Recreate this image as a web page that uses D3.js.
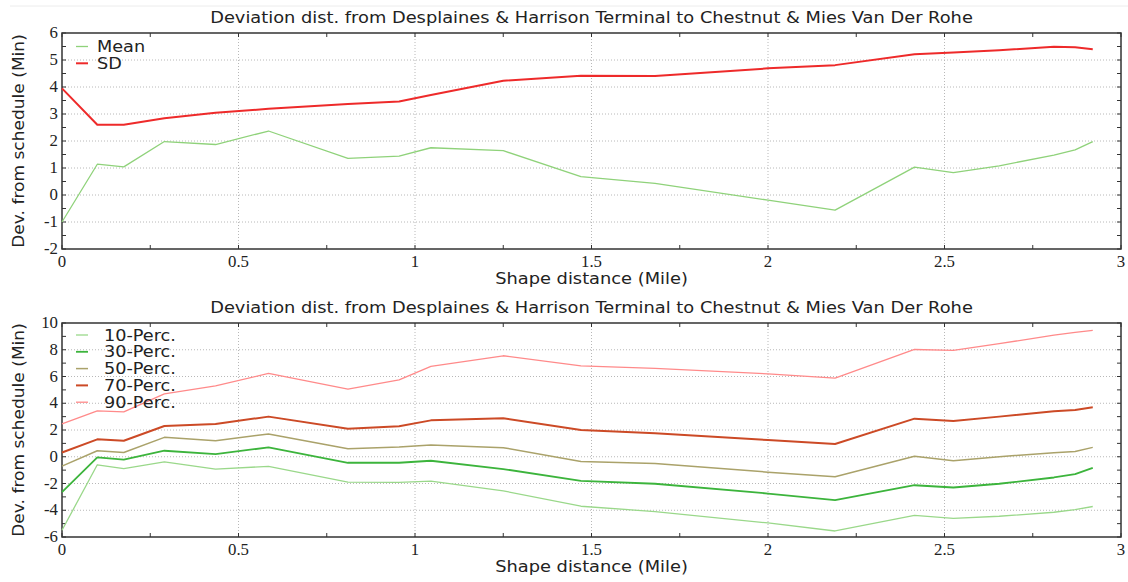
<!DOCTYPE html>
<html><head><meta charset="utf-8">
<script src="https://cdn.jsdelivr.net/npm/d3@7"></script>
<style>
body{margin:0;background:#fff;}
svg{display:block;}
.tick-label{font-family:"Liberation Serif","Times New Roman",serif;font-size:16px;fill:#222;}
.title{font-family:"DejaVu Sans",Verdana,sans-serif;font-size:15.5px;fill:#222;}
.axis-title{font-family:"DejaVu Sans",Verdana,sans-serif;font-size:15.5px;fill:#222;}
.legend{font-family:"DejaVu Sans",Verdana,sans-serif;font-size:15.5px;fill:#222;}
</style>
</head><body>
<script>
// ---------- data ----------
const titleText = "Deviation dist. from Desplaines & Harrison Terminal to Chestnut & Mies Van Der Rohe";
const xLabel = "Shape distance (Mile)";
const yLabel = "Dev. from schedule (Min)";
const distance = [0, 0.1, 0.175, 0.29, 0.435, 0.585, 0.81, 0.955, 1.045, 1.25, 1.47, 1.68, 2.0, 2.19, 2.415, 2.525, 2.655, 2.81, 2.87, 2.92];

const meanValues = [-1.0, 1.14, 1.04, 1.98, 1.87, 2.37, 1.36, 1.44, 1.75, 1.64, 0.68, 0.43, -0.19, -0.56, 1.03, 0.83, 1.08, 1.48, 1.67, 1.98];
const sdValues   = [3.95, 2.6, 2.6, 2.84, 3.05, 3.19, 3.37, 3.46, 3.7, 4.23, 4.42, 4.41, 4.69, 4.81, 5.21, 5.28, 5.36, 5.49, 5.47, 5.4];

const p10 = [-5.5, -0.6, -0.88, -0.38, -0.92, -0.72, -1.9, -1.92, -1.82, -2.55, -3.7, -4.1, -4.95, -5.55, -4.38, -4.6, -4.45, -4.15, -3.95, -3.72];
const p30 = [-2.65, -0.05, -0.22, 0.45, 0.2, 0.7, -0.45, -0.45, -0.3, -0.92, -1.8, -2.02, -2.75, -3.25, -2.13, -2.3, -2.02, -1.55, -1.3, -0.83];
const p50 = [-0.7, 0.45, 0.32, 1.45, 1.2, 1.7, 0.6, 0.72, 0.88, 0.68, -0.35, -0.5, -1.15, -1.5, 0.03, -0.3, 0.0, 0.3, 0.4, 0.7];
const p70 = [0.32, 1.3, 1.2, 2.3, 2.45, 3.0, 2.1, 2.28, 2.72, 2.88, 2.0, 1.75, 1.25, 0.95, 2.85, 2.68, 3.0, 3.4, 3.5, 3.7];
const p90 = [2.45, 3.43, 3.35, 4.7, 5.3, 6.23, 5.05, 5.75, 6.75, 7.55, 6.8, 6.6, 6.2, 5.88, 8.02, 7.95, 8.45, 9.1, 9.3, 9.45];

const xTicks = [0, 0.5, 1, 1.5, 2, 2.5, 3];
const xTickLabels = ["0", "0.5", "1", "1.5", "2", "2.5", "3"];
const yTicksTop = [-2, -1, 0, 1, 2, 3, 4, 5, 6];
const yTicksBottom = [-6, -4, -2, 0, 2, 4, 6, 8, 10];

const topSeries = [
  {name: "Mean", values: meanValues, color: "#8fd27a", width: 1.3},
  {name: "SD", values: sdValues, color: "#ee2a2a", width: 2}
];
const bottomSeries = [
  {name: "10-Perc.", values: p10, color: "#9ad88a", width: 1.3},
  {name: "30-Perc.", values: p30, color: "#3cb43c", width: 1.8},
  {name: "50-Perc.", values: p50, color: "#aaa26a", width: 1.5},
  {name: "70-Perc.", values: p70, color: "#cc4a26", width: 2},
  {name: "90-Perc.", values: p90, color: "#ff8a8a", width: 1.3}
];

// ---------- drawing ----------
const W = 1128, H = 582;
const svg = d3.select("body").append("svg").attr("width", W).attr("height", H);

svg.append("line").attr("x1", 10).attr("x2", W).attr("y1", 6).attr("y2", 6)
  .attr("stroke", "#ececec").attr("stroke-width", 1);

// text placed with a horizontal stretch (the reference glyphs are wider than the installed fonts)
function stext(parent, cls, x, y, txt, anchor, sx, rot) {
  const t = parent.append("text").attr("class", cls).attr("text-anchor", anchor || "start")
    .attr("transform", `translate(${x},${y})${rot ? ` rotate(${rot})` : ""} scale(${sx},1)`)
    .text(txt);
  return t;
}

function panel(cfg) {
  const {top, bottom, left, right, yDomain, yTicks, yMinorStep, series, legendY, legendTextX} = cfg;
  const x = d3.scaleLinear().domain([0, 3]).range([left, right]);
  const y = d3.scaleLinear().domain(yDomain).range([bottom, top]);
  const g = svg.append("g");

  // grid
  g.selectAll(".gx").data(xTicks.slice(1, -1)).join("line")
    .attr("x1", d => x(d)).attr("x2", d => x(d)).attr("y1", top).attr("y2", bottom)
    .attr("stroke", "#b8b8b8").attr("stroke-width", 1).attr("stroke-dasharray", "1,2");
  g.selectAll(".gy").data(yTicks.slice(1, -1)).join("line")
    .attr("x1", left).attr("x2", right).attr("y1", d => y(d)).attr("y2", d => y(d))
    .attr("stroke", "#b8b8b8").attr("stroke-width", 1).attr("stroke-dasharray", "1,2");

  // ticks (inward, all sides)
  const xMinor = d3.range(0, 3.001, 0.25);
  const yMinor = d3.range(yDomain[0], yDomain[1] + 0.001, yMinorStep);
  const tickCol = "#333";
  xMinor.forEach(v => {
    const len = 4;
    g.append("line").attr("x1", x(v)).attr("x2", x(v)).attr("y1", bottom).attr("y2", bottom - len).attr("stroke", tickCol);
    g.append("line").attr("x1", x(v)).attr("x2", x(v)).attr("y1", top).attr("y2", top + len).attr("stroke", tickCol);
  });
  yMinor.forEach(v => {
    const len = 4;
    g.append("line").attr("x1", left).attr("x2", left + len).attr("y1", y(v)).attr("y2", y(v)).attr("stroke", tickCol);
    g.append("line").attr("x1", right).attr("x2", right - len).attr("y1", y(v)).attr("y2", y(v)).attr("stroke", tickCol);
  });

  // frame
  g.append("rect").attr("x", left).attr("y", top).attr("width", right - left).attr("height", bottom - top)
    .attr("fill", "none").attr("stroke", "#333").attr("stroke-width", 1.5);

  // tick labels
  xTicks.forEach((d, i) => stext(g, "tick-label", x(d), bottom + 18, xTickLabels[i], "middle", 1.05));
  yTicks.forEach(d => stext(g, "tick-label", left - 4, y(d) + 5, String(d), "end", 1.05));

  // titles
  stext(g, "title", (left + right) / 2, top - 10, titleText, "middle", 1.15);
  stext(g, "axis-title", (left + right) / 2, bottom + 35, xLabel, "middle", 1.15);
  stext(g, "axis-title", 24, (top + bottom) / 2, yLabel, "middle", 1.1, -90);

  // lines
  const line = d3.line().x((d, i) => x(distance[i])).y(d => y(d));
  series.forEach(s => {
    g.append("path").datum(s.values).attr("d", line).attr("fill", "none")
      .attr("stroke", s.color).attr("stroke-width", s.width).attr("stroke-linejoin", "round");
  });

  // legend
  series.forEach((s, i) => {
    const ly = legendY + i * 16.8;
    g.append("line").attr("x1", 76).attr("x2", 88).attr("y1", ly).attr("y2", ly)
      .attr("stroke", s.color).attr("stroke-width", s.width);
    stext(g, "legend", legendTextX, ly + 5.5, s.name, "start", 1.14);
  });
}

panel({top: 33, bottom: 249, left: 62, right: 1121, yDomain: [-2, 6], yTicks: yTicksTop, yMinorStep: 0.5,
  series: topSeries, legendY: 46.5, legendTextX: 97});
panel({top: 323, bottom: 537, left: 62, right: 1121, yDomain: [-6, 10], yTicks: yTicksBottom, yMinorStep: 1,
  series: bottomSeries, legendY: 335, legendTextX: 104});
</script>
</body></html>
